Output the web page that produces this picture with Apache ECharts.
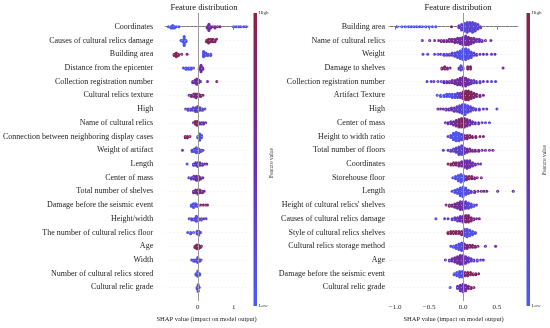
<!DOCTYPE html>
<html><head><meta charset="utf-8">
<script src="https://cdn.jsdelivr.net/npm/echarts@6/dist/echarts.min.js"></script>
<style>html,body{margin:0;padding:0;background:#fff}#c{width:550px;height:328px}</style>
</head><body><div id="c"></div>
<script>
// ---- Data (SHAP value, feature value 0=low..1=high, number of samples at that value) ----
const leftFeatures = ["Coordinates","Causes of cultural relics damage","Building area","Distance from the epicenter","Collection registration number","Cultural relics texture","High","Name of cultural relics","Connection between neighboring display cases","Weight of artifact","Length","Center of mass","Total number of shelves","Damage before the seismic event","Height/width","The number of cultural relics floor","Age","Width","Number of cultural relics stored","Cultural relic grade"];
const leftPoints = [
 [[-0.82,0.05,1],[-0.75,0.1,2],[-0.70,0.05,3],[-0.65,0.1,2],[-0.6,0.05,1],[-0.53,0.1,1],[0.26,0.6,2],[0.31,0.55,6],[0.36,0.6,2],[0.42,0.7,1],[0.48,0.65,2],[0.55,0.7,1],[0.62,0.75,1],[1.0,0.15,1],[1.07,0.1,1],[1.14,0.1,1],[1.2,0.15,1],[1.28,0.1,1],[1.35,0.2,1]],
 [[-0.47,0.1,1],[-0.42,0.05,2],[-0.38,0.05,6],[-0.33,0.1,2],[0.24,0.9,2],[0.3,0.95,4],[0.36,0.85,3],[0.42,0.9,3],[0.48,0.85,2],[0.52,0.8,1]],
 [[-0.66,0.9,2],[-0.6,0.95,4],[-0.54,0.85,2],[-0.45,0.7,1],[-0.3,0.75,1],[0.16,0.1,5],[0.22,0.15,3],[0.28,0.1,2],[0.36,0.15,2]],
 [[-0.4,0.1,1],[-0.33,0.15,2],[-0.26,0.1,2],[-0.19,0.15,2],[-0.12,0.2,1],[0.04,0.55,2],[0.09,0.6,6],[0.14,0.5,2]],
 [[-0.14,0.5,2],[-0.08,0.55,3],[-0.03,0.6,5],[0.03,0.5,3],[0.08,0.45,1],[0.27,0.5,1],[0.53,0.95,1]],
 [[-0.24,0.5,1],[-0.18,0.6,2],[-0.11,0.7,3],[-0.05,0.75,4],[0.02,0.6,3],[0.08,0.8,2],[0.14,0.85,1]],
 [[-0.34,0.3,1],[-0.27,0.25,2],[-0.2,0.3,2],[-0.13,0.2,3],[-0.06,0.35,4],[0.0,0.3,5],[0.06,0.25,3],[0.13,0.3,2],[0.2,0.2,1]],
 [[-0.12,0.5,1],[-0.07,0.85,3],[-0.02,0.9,4],[0.04,0.6,2],[0.1,0.55,2],[0.16,0.5,2],[0.22,0.45,1]],
 [[-0.35,0.9,2],[-0.29,0.85,2],[-0.22,0.9,1],[0.0,0.1,2],[0.05,0.1,6],[0.1,0.15,3]],
 [[-0.43,0.5,1],[-0.16,0.2,2],[-0.1,0.15,3],[-0.04,0.1,5],[0.03,0.15,4],[0.09,0.2,2],[0.14,0.3,1]],
 [[-0.3,0.1,1],[-0.12,0.3,2],[-0.06,0.35,3],[0.0,0.3,4],[0.06,0.4,3],[0.13,0.45,2],[0.2,0.55,1],[0.25,0.5,1]],
 [[-0.25,0.3,1],[-0.18,0.35,2],[-0.11,0.4,3],[-0.04,0.55,4],[0.02,0.6,4],[0.08,0.65,2],[0.14,0.5,1]],
 [[-0.12,0.6,2],[-0.06,0.7,3],[0.0,0.65,4],[0.06,0.75,3],[0.13,0.7,2],[0.18,0.6,1]],
 [[-0.18,0.1,2],[-0.12,0.15,4],[-0.06,0.1,3],[0.0,0.2,2],[0.08,0.8,1],[0.15,0.85,1],[0.22,0.9,1],[0.27,0.85,1]],
 [[-0.24,0.2,1],[-0.17,0.25,2],[-0.1,0.2,2],[-0.04,0.15,5],[0.03,0.2,2],[0.1,0.3,2],[0.17,0.35,1],[0.23,0.4,1]],
 [[-0.28,0.1,1],[-0.2,0.1,2],[-0.12,0.15,1],[-0.02,0.2,3],[0.03,0.15,4],[0.08,0.2,1]],
 [[-0.08,0.85,2],[-0.03,0.9,4],[0.02,0.85,4],[0.07,0.8,2],[0.1,0.6,1]],
 [[-0.17,0.15,1],[-0.11,0.2,2],[-0.05,0.2,2],[0.0,0.15,5],[0.05,0.2,2],[0.09,0.25,1]],
 [[-0.05,0.15,2],[0.0,0.1,5],[0.05,0.15,2]],
 [[-0.02,0.2,2],[0.01,0.15,4],[0.04,0.2,1]]
];
const rightFeatures = ["Building area","Name of cultural relics","Weight","Damage to shelves","Collection registration number","Artifact Texture","High","Center of mass","Height to width ratio","Total number of floors","Coordinates","Storehouse floor","Length","Height of cultural relics' shelves","Causes of cultural relics damage","Style of cultural relics shelves","Cultural relics storage method","Age","Damage before the seismic event","Cultural relic grade"];
const rightPoints = [
 [[-0.97,0.05,1],[-0.9,0.05,1],[-0.85,0.1,1],[-0.8,0.05,1],[-0.76,0.1,1],[-0.72,0.05,1],[-0.68,0.05,1],[-0.64,0.1,1],[-0.6,0.05,1],[-0.55,0.1,1],[-0.5,0.05,1],[-0.45,0.1,1],[-0.4,0.05,1],[-0.17,0.9,1],[-0.06,0.4,3],[-0.02,0.3,6],[0.02,0.2,8],[0.06,0.25,10],[0.1,0.3,9],[0.14,0.2,10],[0.18,0.25,8],[0.22,0.3,5],[0.26,0.35,2]],
 [[-0.6,0.5,1],[-0.49,0.6,1],[-0.42,0.5,1],[-0.36,0.7,1],[-0.32,0.6,2],[-0.28,0.7,2],[-0.24,0.55,2],[-0.2,0.65,3],[-0.16,0.6,3],[-0.12,0.7,4],[-0.08,0.55,5],[-0.04,0.5,6],[0.0,0.6,8],[0.04,0.55,9],[0.08,0.7,8],[0.12,0.6,6],[0.16,0.55,5],[0.2,0.5,3],[0.24,0.45,3],[0.28,0.5,2],[0.33,0.55,1],[0.41,0.5,1]],
 [[-0.59,0.2,1],[-0.52,0.15,1],[-0.42,0.3,1],[-0.37,0.2,1],[-0.33,0.5,1],[-0.28,0.3,2],[-0.24,0.2,2],[-0.2,0.4,2],[-0.16,0.25,3],[-0.12,0.2,4],[-0.08,0.15,6],[-0.04,0.1,8],[0.0,0.1,11],[0.04,0.15,11],[0.08,0.1,9],[0.12,0.2,6],[0.16,0.3,3],[0.2,0.35,2],[0.25,0.4,1],[0.3,0.5,1],[0.35,0.45,1],[0.42,0.4,1],[0.47,0.5,1]],
 [[-0.31,0.8,2],[-0.27,0.85,3],[-0.23,0.75,2],[-0.19,0.7,1],[-0.06,0.3,2],[-0.03,0.2,5],[0.0,0.35,2],[0.07,0.85,3],[0.11,0.9,3],[0.59,0.5,1]],
 [[-0.53,0.3,1],[-0.47,0.2,1],[-0.43,0.4,1],[-0.37,0.3,1],[-0.32,0.25,1],[-0.28,0.5,2],[-0.24,0.4,2],[-0.2,0.55,2],[-0.16,0.5,3],[-0.12,0.6,4],[-0.08,0.55,6],[-0.04,0.6,7],[0.0,0.55,9],[0.04,0.6,8],[0.08,0.5,6],[0.12,0.45,4],[0.16,0.4,3],[0.2,0.35,2],[0.25,0.3,2],[0.3,0.4,1],[0.36,0.3,1],[0.42,0.25,1],[0.48,0.3,1]],
 [[-0.38,0.15,1],[-0.33,0.1,2],[-0.28,0.2,2],[-0.24,0.15,3],[-0.2,0.1,3],[-0.16,0.15,4],[-0.12,0.2,4],[-0.08,0.25,5],[-0.04,0.4,5],[0.0,0.85,7],[0.04,0.9,9],[0.08,0.95,9],[0.12,0.85,7],[0.16,0.8,5],[0.2,0.75,3],[0.25,0.7,2],[0.3,0.65,1]],
 [[-0.37,0.6,1],[-0.33,0.5,1],[-0.29,0.55,1],[-0.25,0.45,2],[-0.21,0.5,2],[-0.17,0.45,3],[-0.13,0.4,4],[-0.09,0.35,5],[-0.05,0.3,7],[-0.01,0.2,9],[0.03,0.15,10],[0.07,0.2,7],[0.11,0.25,5],[0.15,0.3,3],[0.19,0.35,2],[0.24,0.3,2],[0.3,0.4,1],[0.35,0.35,1],[0.5,0.3,1]],
 [[-0.26,0.4,1],[-0.22,0.45,2],[-0.18,0.5,3],[-0.14,0.55,4],[-0.1,0.7,6],[-0.06,0.8,8],[-0.02,0.85,9],[0.02,0.75,9],[0.06,0.65,7],[0.1,0.55,5],[0.14,0.45,3],[0.18,0.4,2],[0.23,0.35,2],[0.28,0.4,1],[0.33,0.3,1],[0.39,0.35,1]],
 [[-0.22,0.3,1],[-0.18,0.2,3],[-0.14,0.1,7],[-0.1,0.05,9],[-0.06,0.1,8],[-0.02,0.2,6],[0.02,0.7,4],[0.06,0.8,4],[0.1,0.85,3],[0.14,0.8,2],[0.19,0.75,2],[0.25,0.8,1],[0.3,0.7,1]],
 [[-0.29,0.3,1],[-0.22,0.4,1],[-0.18,0.35,2],[-0.14,0.3,3],[-0.1,0.35,5],[-0.06,0.3,8],[-0.02,0.25,9],[0.02,0.4,6],[0.06,0.6,4],[0.1,0.65,3],[0.14,0.7,2],[0.18,0.65,2],[0.23,0.7,2],[0.28,0.6,1],[0.33,0.65,1],[0.39,0.7,1],[0.44,0.6,1]],
 [[-0.22,0.9,1],[-0.18,0.85,2],[-0.14,0.8,3],[-0.1,0.85,3],[-0.06,0.7,4],[-0.02,0.6,5],[0.02,0.55,7],[0.06,0.5,8],[0.1,0.55,7],[0.14,0.5,4],[0.18,0.45,2],[0.22,0.4,1],[0.26,0.45,1]],
 [[-0.15,0.2,1],[-0.11,0.15,3],[-0.07,0.1,6],[-0.03,0.1,8],[0.01,0.15,6],[0.05,0.8,4],[0.09,0.85,3],[0.13,0.8,3],[0.17,0.75,2],[0.21,0.8,1],[0.27,0.7,1]],
 [[-0.16,0.2,1],[-0.12,0.15,3],[-0.08,0.1,5],[-0.04,0.15,8],[0.0,0.1,10],[0.04,0.15,7],[0.08,0.2,4],[0.12,0.3,2],[0.17,0.5,2],[0.22,0.6,1],[0.27,0.65,1],[0.31,0.6,1],[0.35,0.7,1],[0.51,0.6,1],[0.74,0.55,1]],
 [[-0.25,0.8,1],[-0.2,0.75,2],[-0.16,0.7,2],[-0.12,0.65,4],[-0.08,0.6,6],[-0.04,0.55,8],[0.0,0.5,8],[0.04,0.35,7],[0.08,0.2,6],[0.12,0.15,4],[0.16,0.2,2],[0.2,0.3,1]],
 [[-0.4,0.1,1],[-0.27,0.4,1],[-0.22,0.35,1],[-0.16,0.3,2],[-0.12,0.35,3],[-0.08,0.4,4],[-0.04,0.5,5],[0.0,0.6,6],[0.04,0.8,7],[0.08,0.85,7],[0.12,0.75,4],[0.16,0.7,2],[0.2,0.65,1],[0.24,0.7,1]],
 [[-0.22,0.9,2],[-0.18,0.95,3],[-0.14,0.85,3],[-0.1,0.9,3],[-0.06,0.85,3],[-0.02,0.8,4],[0.02,0.2,7],[0.06,0.15,8],[0.1,0.1,6],[0.14,0.15,4],[0.18,0.2,2]],
 [[-0.18,0.2,1],[-0.14,0.15,2],[-0.1,0.1,4],[-0.06,0.15,6],[-0.02,0.2,8],[0.02,0.6,5],[0.06,0.75,4],[0.1,0.8,3],[0.14,0.85,3],[0.18,0.8,2],[0.22,0.75,1],[0.33,0.5,1],[0.48,0.55,1]],
 [[-0.26,0.4,1],[-0.2,0.45,2],[-0.16,0.5,3],[-0.12,0.55,5],[-0.08,0.6,7],[-0.04,0.55,9],[0.0,0.5,9],[0.04,0.45,7],[0.08,0.4,5],[0.12,0.35,3],[0.16,0.4,2],[0.21,0.3,2],[0.26,0.35,1],[0.3,0.4,1]],
 [[-0.13,0.15,2],[-0.09,0.1,4],[-0.05,0.15,6],[-0.01,0.1,6],[0.03,0.85,4],[0.07,0.9,4],[0.11,0.85,3],[0.15,0.9,2],[0.19,0.8,2],[0.23,0.85,1]],
 [[-0.19,0.1,1],[-0.08,0.4,3],[-0.04,0.45,6],[0.0,0.5,8],[0.04,0.55,6],[0.08,0.8,3],[0.12,0.85,2],[0.16,0.8,1]]
];
const leftTicks = [0, 1];
const rightTicks = [-1, -0.5, 0, 0.5];
const titleText = "Feature distribution";
const xTitle = "SHAP value (impact on model output)";
const cbarLabel = "Feature value";

// ---- styling ----
const FONT = "Liberation Serif";
const LOW = "#4a5cf6", MID = "#6a2fae", HIGH = "#8c2244";
const ROW_PX = 13.95;

// beeswarm layout: stack points sharing an x-bin symmetrically around row centre
function swarm(rows, binW, stepPx) {
  const out = [];
  const step = stepPx / ROW_PX;
  rows.forEach((row, ri) => {
    const pts = [];
    row.forEach(([s, f, n]) => { for (let k = 0; k < n; k++) pts.push([s, f]); });
    pts.sort((a, b) => a[0] - b[0]);
    const bins = {};
    pts.forEach(([s, f]) => {
      const b = Math.round(s / binW);
      const idx = bins[b] = (bins[b] || 0) + 1;
      const i = idx - 1;
      const off = i === 0 ? 0 : (i % 2 ? 1 : -1) * Math.ceil(i / 2);
      out.push([s, ri + off * step, f]);
    });
  });
  return out;
}

function yAxisFor(gi, feats, margin) {
  return {
    type: 'value', gridIndex: gi, inverse: true, min: -1, max: 20, interval: 1,
    axisLine: { show: false }, axisTick: { show: false }, splitLine: { show: false },
    axisLabel: { margin: margin, fontFamily: FONT, fontSize: 8, color: '#222',
      formatter: v => (feats[v] !== undefined ? feats[v] : '') }
  };
}
function xAxisFor(gi, min, max, ticks, fmt) {
  return {
    type: 'value', gridIndex: gi, min: min, max: max,
    axisLine: { show: true, lineStyle: { color: '#555', width: 0.8 } },
    axisTick: { show: true, customValues: ticks, length: 3, lineStyle: { color: '#555', width: 0.8 } },
    axisLabel: { customValues: ticks, formatter: fmt, fontFamily: FONT, fontSize: 7, color: '#222', margin: 3 },
    splitLine: { show: false },
    name: xTitle, nameLocation: 'middle', nameGap: 12,
    nameTextStyle: { fontFamily: FONT, fontSize: 6.5, color: '#222' }
  };
}
function guideSeries(ai, n) {
  const rows = [];
  for (let i = 0; i < n; i++) rows.push({ yAxis: i, lineStyle: { color: '#d8d8d8', width: 0.5, type: [1, 3] } });
  return {
    type: 'scatter', xAxisIndex: ai, yAxisIndex: ai, data: [], z: 1, silent: true,
    markLine: { silent: true, symbol: ['none', 'none'], label: { show: false }, animation: false,
      data: rows.concat([{ xAxis: 0, lineStyle: { color: '#9a9a9a', width: 1, type: 'solid' } }]) }
  };
}

const chart = echarts.init(document.getElementById('c'), null, { renderer: 'canvas' });
const grad = () => new echarts.graphic.LinearGradient(0, 0, 0, 1, [
  { offset: 0, color: HIGH }, { offset: 0.5, color: MID }, { offset: 1, color: LOW }]);
function cbar(x) {
  return [
    { type: 'rect', shape: { x: x, y: 13, width: 3.5, height: 293 }, style: { fill: grad() } },
    { type: 'text', x: x + 5, y: 13, style: { text: 'High', font: '5px ' + FONT, fill: '#333', verticalAlign: 'middle' } },
    { type: 'text', x: x + 5, y: 306, style: { text: 'Low', font: '5px ' + FONT, fill: '#333', verticalAlign: 'middle' } }
  ];
}
chart.setOption({
  animation: false,
  backgroundColor: '#fff',
  grid: [
    { left: 160, top: 13, width: 88, height: 293 },
    { left: 389, top: 13, width: 129, height: 293 }
  ],
  xAxis: [
    xAxisFor(0, -0.91, 1.40, leftTicks, v => String(v)),
    xAxisFor(1, -1.09, 0.81, rightTicks, v => v.toFixed(1).replace('-', '\u2212'))
  ],
  yAxis: [yAxisFor(0, leftFeatures, 12), yAxisFor(1, rightFeatures, 4)],
  visualMap: {
    show: false, type: 'continuous', dimension: 2, min: 0, max: 1, seriesIndex: [2, 3],
    inRange: { color: [LOW, MID, HIGH] }
  },
  series: [
    guideSeries(0, leftFeatures.length),
    guideSeries(1, rightFeatures.length),
    { type: 'scatter', xAxisIndex: 0, yAxisIndex: 0, z: 3, symbolSize: 3,
      itemStyle: { opacity: 1 }, data: swarm(leftPoints, 0.05, 1.3) },
    { type: 'scatter', xAxisIndex: 1, yAxisIndex: 1, z: 3, symbolSize: 3,
      itemStyle: { opacity: 1 }, data: swarm(rightPoints, 0.035, 1.1) }
  ],
  graphic: [
    { type: 'text', x: 204, y: 8, style: { text: titleText, font: '8.5px ' + FONT, fill: '#111', align: 'center', verticalAlign: 'middle' } },
    { type: 'text', x: 458, y: 8, style: { text: titleText, font: '8.5px ' + FONT, fill: '#111', align: 'center', verticalAlign: 'middle' } },
    ...cbar(253.5), ...cbar(526.5),
    { type: 'text', x: 272, y: 163, rotation: Math.PI / 2, style: { text: cbarLabel, font: '5.5px ' + FONT, fill: '#333', align: 'center', verticalAlign: 'middle' } },
    { type: 'text', x: 545, y: 160, rotation: Math.PI / 2, style: { text: cbarLabel, font: '5.5px ' + FONT, fill: '#333', align: 'center', verticalAlign: 'middle' } }
  ]
});
</script>
</body></html>
